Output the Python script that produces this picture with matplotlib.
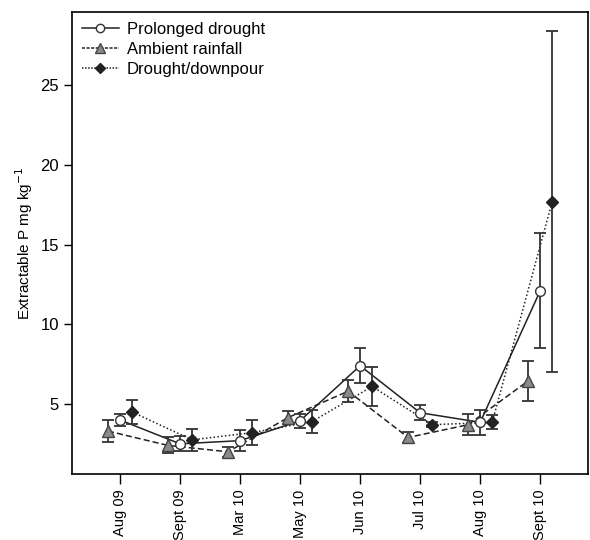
import numpy as np
import matplotlib
matplotlib.use("Agg")
import matplotlib.pyplot as plt
from matplotlib.lines import Line2D

plt.rcParams['font.family'] = ['Liberation Sans', 'DejaVu Sans']

# fechas de muestreo
fechas = ["Aug 09", "Sept 09", "Mar 10", "May 10", "Jun 10", "Jul 10", "Aug 10", "Sept 10"]

# Prolonged drought (circulo blanco, linea continua)
sequia = [4.0, 2.5, 2.7, 3.95, 7.4, 4.45, 3.85, 12.1]
sequia_err = [0.35, 0.47, 0.68, 0.45, 1.1, 0.47, 0.78, 3.6]

# Ambient rainfall (triangulo gris, linea discontinua)
ambiente = [3.3, 2.4, 2.0, 4.15, 5.8, 2.9, 3.7, 6.45]
ambiente_err = [0.7, 0.5, 0.32, 0.43, 0.7, 0.35, 0.65, 1.25]

# Drought/downpour (rombo negro, linea punteada)
aguacero = [4.5, 2.75, 3.2, 3.9, 6.1, 3.7, 3.85, 17.7]
aguacero_err = [0.73, 0.7, 0.8, 0.7, 1.2, 0.15, 0.45, 10.7]

x = np.arange(len(fechas))
desp = 0.2

fig = plt.figure(figsize=(5.9, 5.4), dpi=100)
ax = fig.add_axes([0.122, 0.122, 0.875, 0.856])

color_err = '#333333'

## series
ax.plot(x - desp, ambiente, color='#222222', ls=(0, (4, 2)), lw=1.1, zorder=2)
ax.errorbar(x - desp, ambiente, yerr=ambiente_err, fmt='^', ms=8, mfc='#8a8a8a', mec='#444444',
            ecolor=color_err, elinewidth=1.3, capsize=4, capthick=1.3, zorder=4)

ax.plot(x, sequia, color='#222222', ls='-', lw=1.1, zorder=2)
ax.errorbar(x, sequia, yerr=sequia_err, fmt='o', ms=7, mfc='white', mec='#333333',
            ecolor=color_err, elinewidth=1.3, capsize=4, capthick=1.3, zorder=4)

ax.plot(x + desp, aguacero, color='#222222', ls=(0, (1, 1.5)), lw=1.1, zorder=2)
ax.errorbar(x + desp, aguacero, yerr=aguacero_err, fmt='D', ms=6, mfc='#222222', mec='#222222',
            ecolor=color_err, elinewidth=1.3, capsize=4, capthick=1.3, zorder=4)

## ejes
ax.set_xlim(-0.8, 7.8)
ax.set_ylim(0.6, 29.6)
ax.set_xticks(x)
ax.set_xticklabels(fechas, rotation=90, fontsize=10.5)
ax.set_yticks([5, 10, 15, 20, 25])
ax.tick_params(axis='y', labelsize=12, length=6, width=1)
ax.tick_params(axis='x', length=7, width=1, pad=4)
for s in ax.spines.values():
    s.set_linewidth(1.2)
ax.set_ylabel('Extractable P mg kg$^{-1}$', fontsize=11)

## leyenda
handles = [
    Line2D([], [], color='#222222', ls='-', lw=1.1, marker='o', ms=6, mfc='white', mec='#333333'),
    Line2D([], [], color='#222222', ls=(0, (2, 1)), lw=1.1, marker='^', ms=7, mfc='#8a8a8a', mec='#444444'),
    Line2D([], [], color='#222222', ls=(0, (1, 1)), lw=1.1, marker='D', ms=5, mfc='#222222', mec='#222222'),
]
ax.legend(handles, ['Prolonged drought', 'Ambient rainfall', 'Drought/downpour'],
          loc='upper left', frameon=False, fontsize=12, handlelength=2.2,
          labelspacing=0.3, borderaxespad=0.2, handletextpad=0.5)

fig.savefig('out.png', dpi=100)
